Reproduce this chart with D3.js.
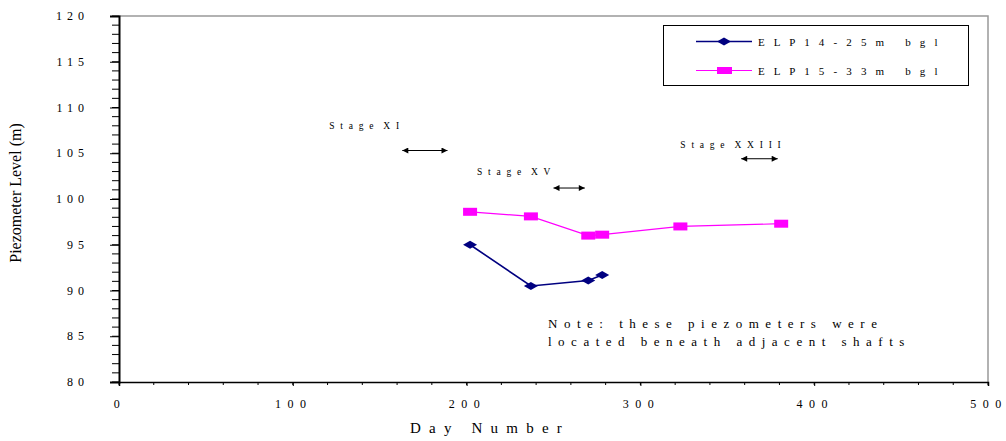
<!doctype html>
<html>
<head>
<meta charset="UTF-8">
<title>Piezometer Level</title>
<script src="https://d3js.org/d3.v7.min.js"></script>
<style>
  body { margin: 0; background: #fff; }
  text { font-family: "Liberation Serif", "Times New Roman", serif; fill: #000; white-space: pre; }
</style>
</head>
<body>
<script>
// data
var days14 = [202, 237, 270, 278];
var elp14 = [95.0, 90.5, 91.1, 91.7];
var days15 = [202, 237, 270, 278, 323, 381];
var elp15 = [98.6, 98.1, 96.0, 96.1, 97.0, 97.3];
var seriesNames = ["E L P 1 4 - 2 5 m   b g l", "E L P 1 5 - 3 3 m   b g l"];
var xTicks = [0, 100, 200, 300, 400, 500];
var yTicks = [80, 85, 90, 95, 100, 105, 110, 115, 120];

// stage markers: label pos + arrow span (day, level)
var stageNames = ["S t a g e  X I", "S t a g e  X V", "S t a g e  X X I I I"];
var stageLabelDay = [121, 206, 323];
var stageLabelLvl = [107.6, 102.6, 105.6];
var stageFrom = [163, 250, 358];
var stageTo = [189, 268, 379];
var stageArrowLvl = [105.3, 101.2, 104.4];

var W = 1006, H = 441;
var mLeft = 119, mRight = 988, mTop = 16, mBottom = 382;

var svg = d3.select("body").append("svg").attr("width", W).attr("height", H);

var x = d3.scaleLinear().domain([0, 500]).range([mLeft, mRight]);
var y = d3.scaleLinear().domain([80, 120]).range([mBottom, mTop]);

// gray frame top/right
svg.append("path")
  .attr("d", "M" + mLeft + "," + mTop + "H" + mRight + "V" + mBottom)
  .attr("fill", "none").attr("stroke", "#999").attr("stroke-width", 1.5);

// minor ticks
svg.append("g").selectAll("line").data(d3.range(80, 121, 1)).enter().append("line")
  .attr("x1", mLeft - 7).attr("x2", mLeft).attr("y1", function (d) { return y(d); }).attr("y2", function (d) { return y(d); })
  .attr("stroke", "#000").attr("stroke-width", 1);
svg.append("g").selectAll("line").data(d3.range(0, 501, 20)).enter().append("line")
  .attr("y1", mBottom).attr("y2", mBottom + 3).attr("x1", function (d) { return x(d); }).attr("x2", function (d) { return x(d); })
  .attr("stroke", "#000").attr("stroke-width", 1);

// axes
var yAxis = d3.axisLeft(y).tickValues(yTicks).tickSize(9).tickFormat("");
var xAxis = d3.axisBottom(x).tickValues(xTicks).tickSize(4).tickFormat("");
svg.append("g").attr("transform", "translate(" + mLeft + ",0)").call(yAxis)
  .call(function (g) { g.select(".domain").attr("stroke-width", 2); });
svg.append("g").attr("transform", "translate(0," + mBottom + ")").call(xAxis)
  .call(function (g) { g.select(".domain").attr("stroke-width", 1.5); });

// tick labels with spaced digits
svg.append("g").selectAll("text").data(yTicks).enter().append("text")
  .attr("x", 89).attr("y", function (d) { return y(d) + 4; })
  .attr("text-anchor", "end").attr("font-size", 12).attr("letter-spacing", 5)
  .text(function (d) { return d; });
svg.append("g").selectAll("text").data(xTicks).enter().append("text")
  .attr("x", function (d) { return x(d) + 1; }).attr("y", 408)
  .attr("text-anchor", "middle").attr("font-size", 12).attr("letter-spacing", 6.5)
  .text(function (d) { return d; });

// axis titles
svg.append("text").attr("x", 490).attr("y", 433).attr("text-anchor", "middle")
  .attr("font-size", 15).attr("letter-spacing", 8.2).text("Day Number");
svg.append("text").attr("transform", "translate(21,193) rotate(-90)").attr("text-anchor", "middle")
  .attr("font-size", 16).text("Piezometer Level (m)");

// series
var line = d3.line().x(function (d) { return x(d[0]); }).y(function (d) { return y(d[1]); });
var s14 = d3.zip(days14, elp14), s15 = d3.zip(days15, elp15);

svg.append("path").datum(s15).attr("d", line).attr("fill", "none").attr("stroke", "#ff00ff").attr("stroke-width", 1.2);
svg.append("g").selectAll("rect").data(s15).enter().append("rect")
  .attr("x", function (d) { return x(d[0]) - 7; }).attr("y", function (d) { return y(d[1]) - 4; })
  .attr("width", 14).attr("height", 8).attr("fill", "#ff00ff");

svg.append("path").datum(s14).attr("d", line).attr("fill", "none").attr("stroke", "#000080").attr("stroke-width", 1.6);
function diamond(cx, cy) {
  return "M" + (cx - 7) + "," + cy + "L" + cx + "," + (cy - 4) + "L" + (cx + 7) + "," + cy + "L" + cx + "," + (cy + 4) + "Z";
}
svg.append("g").selectAll("path").data(s14).enter().append("path")
  .attr("d", function (d) { return diamond(x(d[0]), y(d[1])); }).attr("fill", "#000080");

// stage annotations
var defs = svg.append("defs");
defs.append("marker").attr("id", "ah").attr("viewBox", "0 0 10 10").attr("refX", 10).attr("refY", 5)
  .attr("markerWidth", 13).attr("markerHeight", 6).attr("markerUnits", "userSpaceOnUse").attr("orient", "auto-start-reverse")
  .append("path").attr("d", "M0,0L10,5L0,10Z").attr("fill", "#000");

stageNames.forEach(function (name, i) {
  svg.append("text").attr("x", x(stageLabelDay[i])).attr("y", y(stageLabelLvl[i]))
    .attr("font-size", 9.5).attr("letter-spacing", 1.7).text(name);
  svg.append("line").attr("x1", x(stageFrom[i])).attr("x2", x(stageTo[i]))
    .attr("y1", y(stageArrowLvl[i])).attr("y2", y(stageArrowLvl[i]))
    .attr("stroke", "#000").attr("stroke-width", 1)
    .attr("marker-start", "url(#ah)").attr("marker-end", "url(#ah)");
});

// note
svg.append("text").attr("x", 548).attr("y", 328).attr("font-size", 13).attr("letter-spacing", 6.5)
  .text("Note: these piezometers were");
svg.append("text").attr("x", 548).attr("y", 346).attr("font-size", 13).attr("letter-spacing", 6.5)
  .text("located beneath adjacent shafts");

// legend
var lg = svg.append("g");
lg.append("rect").attr("x", 663.5).attr("y", 25.5).attr("width", 305).attr("height", 60)
  .attr("fill", "#fff").attr("stroke", "#000").attr("stroke-width", 1);
var legColors = ["#000080", "#ff00ff"];
var legY = [41.5, 70.5];
legY.forEach(function (ly, i) {
  lg.append("line").attr("x1", 696).attr("x2", 752).attr("y1", ly).attr("y2", ly)
    .attr("stroke", legColors[i]).attr("stroke-width", i === 0 ? 1.6 : 1.2);
  if (i === 0) lg.append("path").attr("d", diamond(724, ly)).attr("fill", legColors[i]);
  else lg.append("rect").attr("x", 717).attr("y", ly - 3.5).attr("width", 15).attr("height", 7).attr("fill", legColors[i]);
  lg.append("text").attr("x", 758).attr("y", ly + 4).attr("font-size", 11).attr("letter-spacing", 3.2)
    .text(seriesNames[i]);
});
</script>
</body>
</html>
